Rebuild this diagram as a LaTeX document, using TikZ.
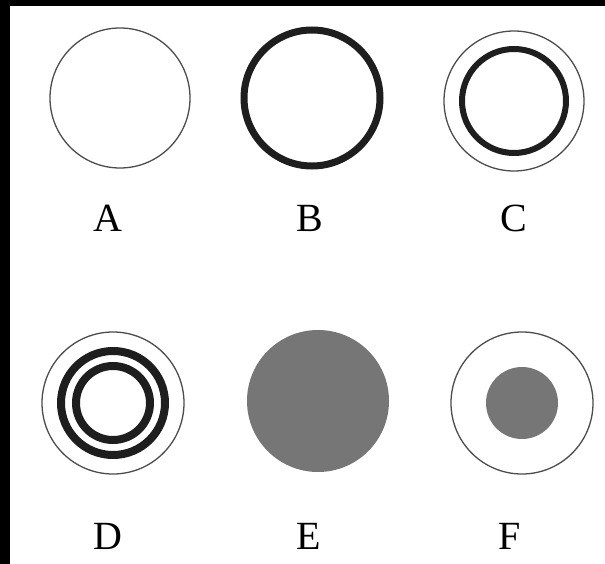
\documentclass[tikz,border=0pt]{standalone}
\usepackage{fontspec}
\setmainfont{Liberation Serif}
\definecolor{discgray}{RGB}{118,118,118}
\definecolor{ringblack}{RGB}{30,30,30}
\begin{document}
\begin{tikzpicture}[x=1pt,y=-1pt,
  thin ring/.style={draw=black!70,line width=1.3pt},
  thick ring/.style={draw=ringblack,line width=7pt},
  disc/.style={fill=discgray},
  lab/.style={font=\fontsize{40}{40}\selectfont,anchor=base}]
\useasboundingbox (0,0) rectangle (605,564);
\fill[white] (0,0) rectangle (605,564);
\fill[black] (0,0) rectangle (605,6);
\fill[black] (0,0) rectangle (10,564);
% top row
\draw[thin ring] (120,98) circle (70);
\node[lab] (labA) at (108,232) {A};
\draw[thick ring] (312,98) circle (68);
\node[lab] (labB) at (310,232) {B};
\draw[thin ring] (514,101) circle (70);
\draw[thick ring,line width=6pt] (514,101) circle (52);
\node[lab] (labC) at (514,232) {C};
% bottom row
\draw[thin ring] (113,403) circle (71);
\draw[thick ring,line width=8pt] (113,403) circle (52);
\draw[thick ring,line width=8pt] (113,403) circle (37);
\node[lab] (labD) at (108,549) {D};
\fill[disc] (318,401) circle (71);
\node[lab] (labE) at (309,549) {E};
\draw[thin ring] (522,403) circle (71);
\fill[disc] (522,403) circle (36);
\node[lab] (labF) at (510,549) {F};
\end{tikzpicture}
\end{document}
